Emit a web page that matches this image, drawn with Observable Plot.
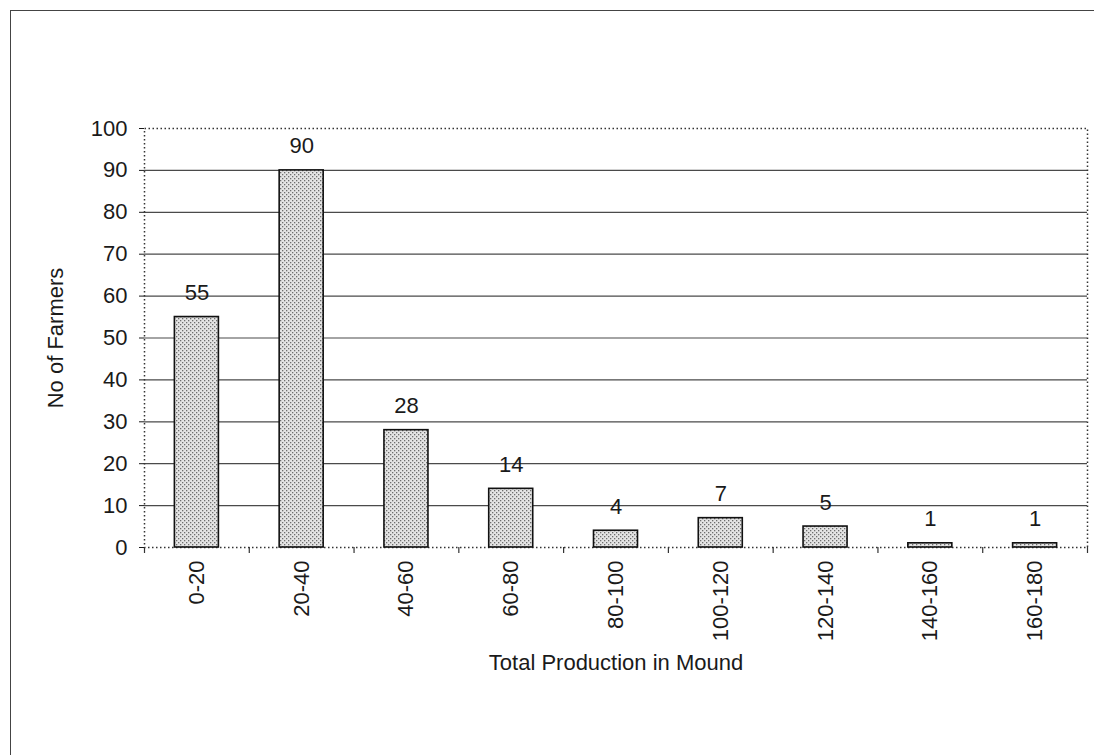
<!DOCTYPE html>
<html><head><meta charset="utf-8">
<script src="https://cdn.jsdelivr.net/npm/d3@7"></script>
<script src="https://cdn.jsdelivr.net/npm/@observablehq/plot@0.6"></script>
<style>
body{margin:0;background:#fff;overflow:hidden;font-family:"Liberation Sans",Arial,sans-serif;}
#wrap{position:relative;width:1094px;height:755px;}
#wrap svg{position:absolute;left:0;top:0;}
#border{position:absolute;left:10px;top:10px;width:2000px;height:2000px;border-left:1.5px solid #444;border-top:1.5px solid #444;pointer-events:none;}
</style></head><body><div id="wrap"><div id="border"></div></div>
<script>
const categories = ["0-20","20-40","40-60","60-80","80-100","100-120","120-140","140-160","160-180"];
const farmers = [55, 90, 28, 14, 4, 7, 5, 1, 1];
const yTicks = [0,10,20,30,40,50,60,70,80,90,100];
const yLabel = "No of Farmers";
const xLabel = "Total Production in Mound";

const data = categories.map((c, i) => ({range: c, n: farmers[i]}));
const W = 1094, H = 755, mL = 144, mR = 7, mT = 128, mB = 208;
const step = (W - mL - mR) / categories.length;

const chart = Plot.plot({
  width: W, height: H,
  marginLeft: mL, marginRight: mR, marginTop: mT, marginBottom: mB,
  style: {fontFamily: "Liberation Sans, Arial, sans-serif", fontSize: "22px", color: "#1a1a1a", background: "transparent", overflow: "visible"},
  x: {domain: categories, paddingInner: 0.58, paddingOuter: 0.29, round: false, label: null},
  y: {domain: [0, 100], label: null},
  marks: [
    Plot.ruleY(yTicks.filter(t => t > 0 && t < 100), {stroke: "#4a4a4a", strokeWidth: 1.2}),
    Plot.frame({stroke: "#333", strokeDasharray: "1.5,2.5", strokeWidth: 1.5}),
    Plot.barY(data, {x: "range", y: "n", fill: "url(#dots)", stroke: "#111", strokeWidth: 1.6}),
    Plot.text(data, {x: "range", y: "n", text: d => String(d.n), lineAnchor: "bottom", dy: -17, fontSize: 22, fill: "#1a1a1a"}),
    Plot.axisY(yTicks, {tickSize: 5, tickPadding: 12, fontSize: 22, label: yLabel, labelArrow: "none", labelAnchor: "center", labelOffset: 97}),
    Plot.axisX({tickSize: 0, tickPadding: 13, tickRotate: -90, fontSize: 22, label: xLabel, labelAnchor: "center", labelOffset: 122}),
    Plot.ruleX(categories, {x: d => d, y1: 0, y2: 0, insetBottom: -6, dx: step / 2, stroke: "#333", strokeWidth: 1.2}),
    Plot.ruleX([categories[0]], {x: d => d, y1: 0, y2: 0, insetBottom: -6, dx: -step / 2, stroke: "#333", strokeWidth: 1.2})
  ]
});

const ns = "http://www.w3.org/2000/svg";
const defs = document.createElementNS(ns, "defs");
defs.innerHTML = '<pattern id="dots" width="4" height="4" patternUnits="userSpaceOnUse">' +
  '<rect width="4" height="4" fill="#e4e4e4"/>' +
  '<rect x="0" y="0" width="1.3" height="1.3" fill="#6e6e6e"/>' +
  '<rect x="2" y="2" width="1.3" height="1.3" fill="#6e6e6e"/></pattern>';
chart.insertBefore(defs, chart.firstChild);
document.getElementById("wrap").appendChild(chart);
</script>
</body></html>
